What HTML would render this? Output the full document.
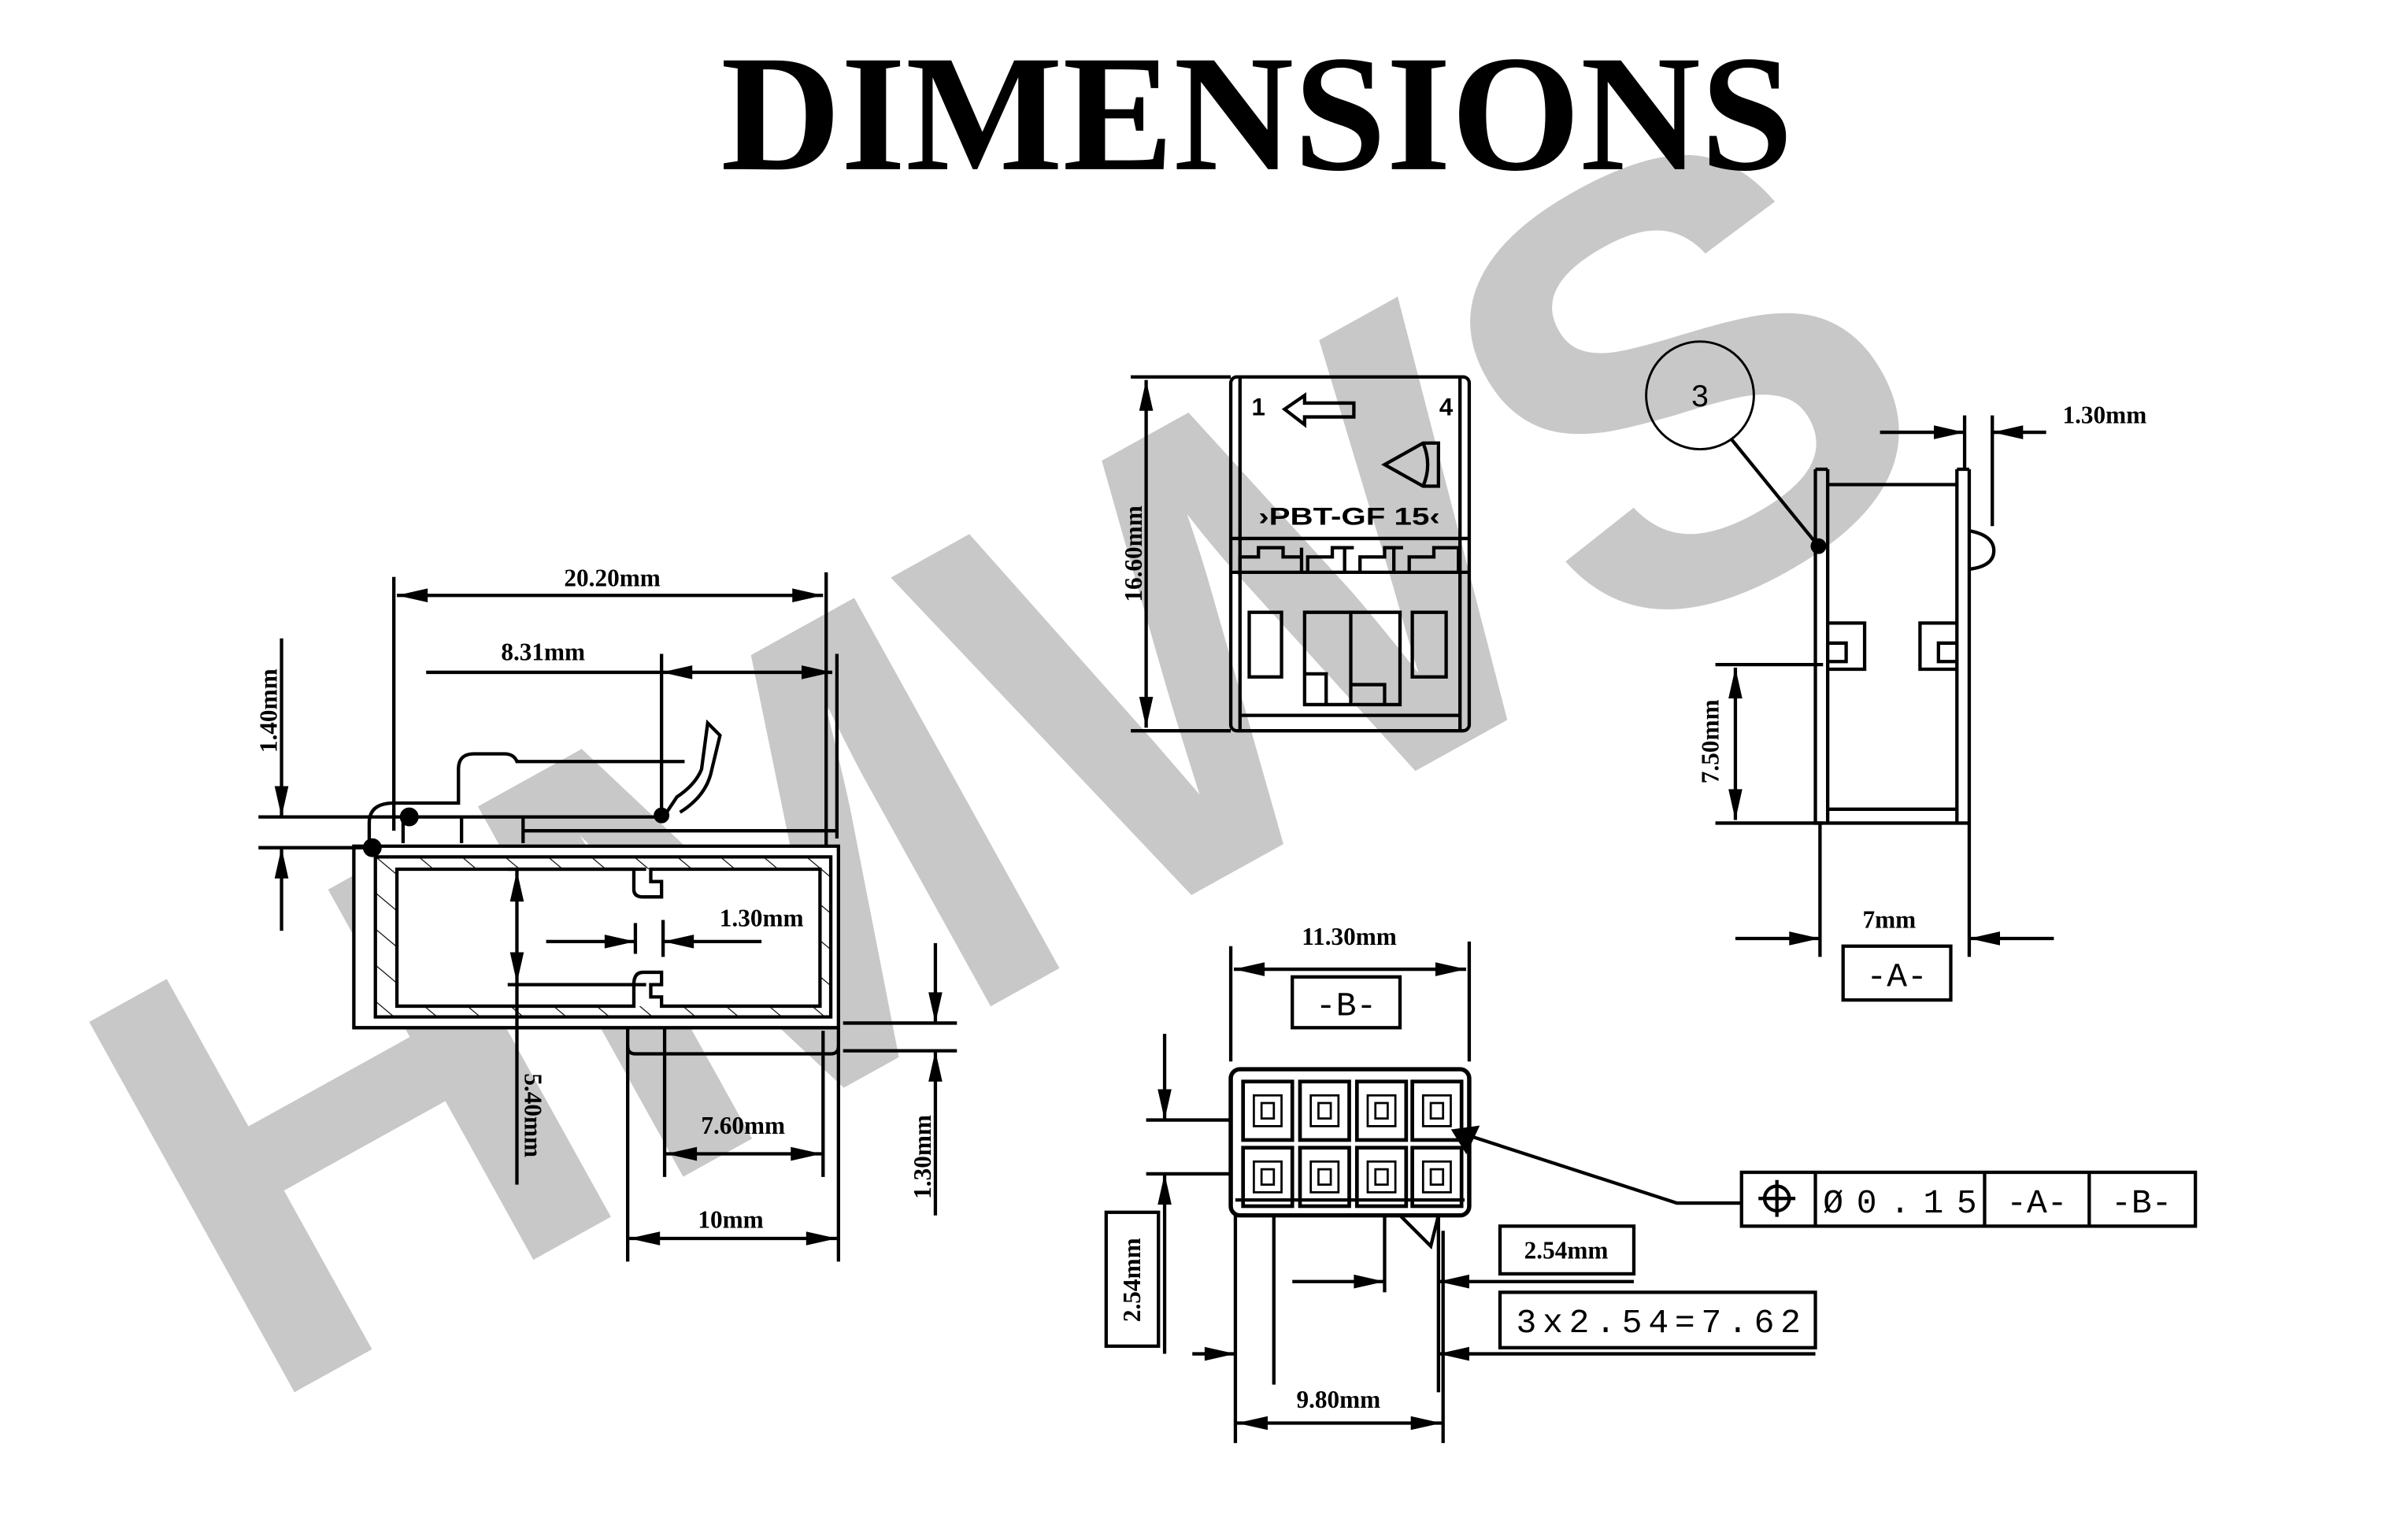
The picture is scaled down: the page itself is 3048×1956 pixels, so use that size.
<!DOCTYPE html>
<html><head><meta charset="utf-8"><style>
html,body{margin:0;padding:0;background:#fff}
svg{display:block}
.d{font-family:"Liberation Serif",serif;font-weight:bold;font-size:16px;fill:#000}
.m{font-family:"Liberation Mono","DejaVu Sans Mono",monospace;font-size:22px;fill:#000}
</style></head><body>
<svg width="3048" height="1956" viewBox="0 0 1560 1001" preserveAspectRatio="none" xmlns="http://www.w3.org/2000/svg">
<defs>
<marker id="a" markerUnits="userSpaceOnUse" markerWidth="24" markerHeight="12" refX="0" refY="0" viewBox="-22 -6 23 12" orient="auto-start-reverse">
<path d="M0,0 L-20,-4.5 L-20,4.5 z" fill="#000"/></marker>
<pattern id="h" patternUnits="userSpaceOnUse" width="18" height="18" patternTransform="rotate(-50)">
<line x1="0" y1="0" x2="0" y2="18" stroke="#000" stroke-width="1.2"/></pattern>
</defs>
<rect width="1560" height="1001" fill="#fff"/>
<text x="652" y="485" transform="rotate(-29 652 485)" text-anchor="middle" dy="144" font-family="Liberation Sans,sans-serif" font-weight="bold" font-size="400" fill="#c8c8c8">HMWS</text>
<text x="817" y="110" text-anchor="middle" font-family="Liberation Serif,serif" font-weight="bold" font-size="108" textLength="697" lengthAdjust="spacingAndGlyphs">DIMENSIONS</text>

<g fill="none" stroke="#000" stroke-width="2.2">
<path d="M230,550 H545 V668 H230 Z" fill="#fff"/>
<path d="M244,557 H540 V661 H244 Z M258,565 V654 H533 V565 Z" fill="url(#h)" fill-rule="evenodd" stroke="none"/>
<path d="M244,557 H540 V661 H244 Z"/>
<path d="M258,565 H412 V578 Q412,583 418,583 H430 V573 H423 V565 H533 V654 H430 V648 H423 V640 H430 V632 H418 Q412,632 412,640 V654 H258 Z" fill="#fff"/>
<path d="M408,668 V680 Q408,685 413,685 H540 Q545,685 545,680 V668"/>
<path d="M240,550 V535 Q240,522 256,522 H298 V500 Q298,490 308,490 H328 Q334,490 336,495 H445"/>
<path d="M262,531 H432 M262,531 V548 M340,540 H545 M300,531 V548 M340,531 V548"/>
<path d="M432,530 L440,518 Q452,510 456,500 L460,470 L468,478 L462,503 Q458,518 442,528"/>
<circle cx="242" cy="551" r="5" fill="#000"/>
<circle cx="266" cy="531" r="5" fill="#000"/>
<circle cx="430" cy="530" r="4" fill="#000"/>
<path d="M256,375 V540 M537,372 V550 M430,425 V530 M544,425 V545"/>
<line x1="258" y1="387" x2="535" y2="387" marker-start="url(#a)" marker-end="url(#a)"/>
<line x1="277" y1="437" x2="430" y2="437"/>
<line x1="430" y1="437" x2="541" y2="437" marker-start="url(#a)" marker-end="url(#a)"/>
<path d="M168,531 H262 M168,551 H240"/>
<line x1="183" y1="415" x2="183" y2="531" marker-end="url(#a)"/>
<line x1="183" y1="605" x2="183" y2="551" marker-end="url(#a)"/>
<path d="M330,565 H420 M330,640 H420"/>
<line x1="336" y1="566" x2="336" y2="639" marker-start="url(#a)" marker-end="url(#a)"/>
<line x1="336" y1="639" x2="336" y2="770"/>
<path d="M413,600 V620 M431,598 V622"/>
<line x1="355" y1="612" x2="413" y2="612" marker-end="url(#a)"/>
<line x1="495" y1="612" x2="431" y2="612" marker-end="url(#a)"/>
<path d="M548,665 H622 M548,683 H622"/>
<line x1="608" y1="613" x2="608" y2="665" marker-end="url(#a)"/>
<line x1="608" y1="790" x2="608" y2="683" marker-end="url(#a)"/>
<path d="M432,668 V765 M535,670 V765 M408,680 V820 M545,680 V820"/>
<line x1="433" y1="750" x2="534" y2="750" marker-start="url(#a)" marker-end="url(#a)"/>
<line x1="409" y1="805" x2="544" y2="805" marker-start="url(#a)" marker-end="url(#a)"/>

<rect x="800" y="245" width="155" height="230" rx="4"/>
<path d="M806,245 V475 M949,245 V475 M800,350 H955 M800,372 H955"/>
<path d="M806,372 V362 H818 V356 H834 V362 H846 M846,372 V356 M850,372 V362 H866 V356 H880 M874,372 V356 M884,372 V362 H900 V356 H912 M906,372 V356 M916,372 V362 H932 V356 H948 V372"/>
<path d="M806,465 H949"/>
<rect x="812" y="398" width="21" height="42"/>
<path d="M848,398 H878 V458 H848 Z M848,438 H862 V458 M878,398 H910 V458 H878 M878,398 V445 H900 V458"/>
<rect x="918" y="398" width="22" height="42"/>
<path d="M835,266 L848,257 V262 H880 V271 H848 V276 Z"/>
<path d="M900,302 L925,288 H935 V316 H925 Z M925,288 Q931,302 925,316"/>
<path d="M735,245 H800 M735,475 H800"/>
<line x1="745" y1="247" x2="745" y2="473" marker-start="url(#a)" marker-end="url(#a)"/>

<path d="M1180,305 V535 H1280 V305 M1188,305 V535 M1272,305 V535"/>
<path d="M1180,305 H1188 M1272,305 H1280 M1188,315 H1272 M1188,526 H1272"/>
<path d="M1280,345 Q1296,348 1296,358 Q1296,368 1280,370"/>
<path d="M1188,405 H1212 V435 H1188 M1188,418 H1200 V430 H1188 M1272,405 H1248 V435 H1272 M1272,418 H1260 V430 H1272"/>
<circle cx="1105" cy="257" r="35" stroke-width="1.5"/>
<path d="M1125,285 L1182,355"/>
<circle cx="1182" cy="355" r="4" fill="#000"/>
<path d="M1277,270 V305 M1295,270 V342"/>
<line x1="1222" y1="281" x2="1277" y2="281" marker-end="url(#a)"/>
<line x1="1330" y1="281" x2="1295" y2="281" marker-end="url(#a)"/>
<path d="M1115,432 H1185 M1115,535 H1185"/>
<line x1="1128" y1="434" x2="1128" y2="533" marker-start="url(#a)" marker-end="url(#a)"/>
<path d="M1183,535 V622 M1280,535 V622"/>
<line x1="1128" y1="610" x2="1183" y2="610" marker-end="url(#a)"/>
<line x1="1335" y1="610" x2="1280" y2="610" marker-end="url(#a)"/>
<rect x="1198" y="615" width="70" height="35"/>

<path d="M800,615 V690 M955,612 V690"/>
<line x1="802" y1="630" x2="953" y2="630" marker-start="url(#a)" marker-end="url(#a)"/>
<rect x="840" y="635" width="70" height="33"/>
<rect x="800" y="695" width="155" height="95" rx="6" stroke-width="2.8"/>
<path d="M803,780 H952"/>
<g stroke-width="2.4">
<rect x="808" y="703" width="32" height="38"/><rect x="845" y="703" width="32" height="38"/><rect x="882" y="703" width="32" height="38"/><rect x="918" y="703" width="32" height="38"/>
<rect x="808" y="746" width="32" height="38"/><rect x="845" y="746" width="32" height="38"/><rect x="882" y="746" width="32" height="38"/><rect x="918" y="746" width="32" height="38"/>
</g>
<g stroke-width="1.4">
<rect x="815" y="712" width="18" height="20"/><rect x="852" y="712" width="18" height="20"/><rect x="889" y="712" width="18" height="20"/><rect x="925" y="712" width="18" height="20"/>
<rect x="815" y="755" width="18" height="20"/><rect x="852" y="755" width="18" height="20"/><rect x="889" y="755" width="18" height="20"/><rect x="925" y="755" width="18" height="20"/>
<path d="M820,717 h8 v10 h-8z M857,717 h8 v10 h-8z M894,717 h8 v10 h-8z M930,717 h8 v10 h-8z M820,760 h8 v10 h-8z M857,760 h8 v10 h-8z M894,760 h8 v10 h-8z M930,760 h8 v10 h-8z"/>
</g>
<path d="M910,790 L930,810 L935,790"/>
<path d="M745,728 H800 M745,763 H800"/>
<line x1="757" y1="672" x2="757" y2="728" marker-end="url(#a)"/>
<line x1="757" y1="880" x2="757" y2="763" marker-end="url(#a)"/>
<rect x="719" y="788" width="34" height="87"/>
<path d="M945,735 L1090,782 H1132"/>
<path d="M945,735 L960,733 L953,748 Z" fill="#000"/>
<rect x="1132" y="762" width="295" height="35"/>
<path d="M1180,762 V797 M1290,762 V797 M1358,762 V797"/>
<circle cx="1155" cy="779" r="8"/><path d="M1143,779 H1167 M1155,767 V791"/>
<rect x="975" y="797" width="87" height="31"/>
<rect x="975" y="840" width="205" height="36"/>
<path d="M828,790 V900 M900,790 V840 M935,790 V905 M938,800 V938 M803,790 V938"/>
<line x1="840" y1="833" x2="900" y2="833" marker-end="url(#a)"/>
<line x1="1062" y1="833" x2="935" y2="833" marker-end="url(#a)"/>
<line x1="775" y1="880" x2="803" y2="880" marker-end="url(#a)"/>
<line x1="1180" y1="880" x2="935" y2="880" marker-end="url(#a)"/>
<line x1="804" y1="925" x2="937" y2="925" marker-start="url(#a)" marker-end="url(#a)"/>
</g>

<text class="d" x="398" y="381" text-anchor="middle">20.20mm</text>
<text class="d" x="353" y="429" text-anchor="middle">8.31mm</text>
<text class="d" transform="translate(180,462) rotate(-90)" text-anchor="middle">1.40mm</text>
<text class="d" transform="translate(341,725) rotate(90)" text-anchor="middle">5.40mm</text>
<text class="d" x="495" y="602" text-anchor="middle">1.30mm</text>
<text class="d" transform="translate(605,752) rotate(-90)" text-anchor="middle">1.30mm</text>
<text class="d" x="483" y="737" text-anchor="middle">7.60mm</text>
<text class="d" x="475" y="798" text-anchor="middle">10mm</text>
<text class="d" transform="translate(742,360) rotate(-90)" text-anchor="middle">16.60mm</text>
<text x="818" y="270" text-anchor="middle" font-family="Liberation Sans,sans-serif" font-weight="bold" font-size="16">1</text>
<text x="940" y="270" text-anchor="middle" font-family="Liberation Sans,sans-serif" font-weight="bold" font-size="16">4</text>
<text x="877" y="341" text-anchor="middle" font-family="Liberation Sans,sans-serif" font-weight="bold" font-size="16" textLength="118" lengthAdjust="spacingAndGlyphs">›PBT-GF  15‹</text>
<text x="1105" y="264" text-anchor="middle" font-family="Liberation Sans,sans-serif" font-size="20">3</text>
<text class="d" x="1368" y="275" text-anchor="middle">1.30mm</text>
<text class="d" transform="translate(1117,482) rotate(-90)" text-anchor="middle">7.50mm</text>
<text class="d" x="1228" y="603" text-anchor="middle">7mm</text>
<text class="m" x="1233" y="641" text-anchor="middle">-A-</text>
<text class="d" x="877" y="614" text-anchor="middle">11.30mm</text>
<text class="m" x="875" y="660" text-anchor="middle">-B-</text>
<text class="d" transform="translate(741,832) rotate(-90)" text-anchor="middle">2.54mm</text>
<text class="m" x="1235" y="788" text-anchor="middle" textLength="100">Ø0.15</text>
<text class="m" x="1324" y="788" text-anchor="middle">-A-</text>
<text class="m" x="1392" y="788" text-anchor="middle">-B-</text>
<text class="d" x="1018" y="818" text-anchor="middle">2.54mm</text>
<text class="m" x="1078" y="866" text-anchor="middle" textLength="185">3x2.54=7.62</text>
<text class="d" x="870" y="915" text-anchor="middle">9.80mm</text>
</svg>
</body></html>
